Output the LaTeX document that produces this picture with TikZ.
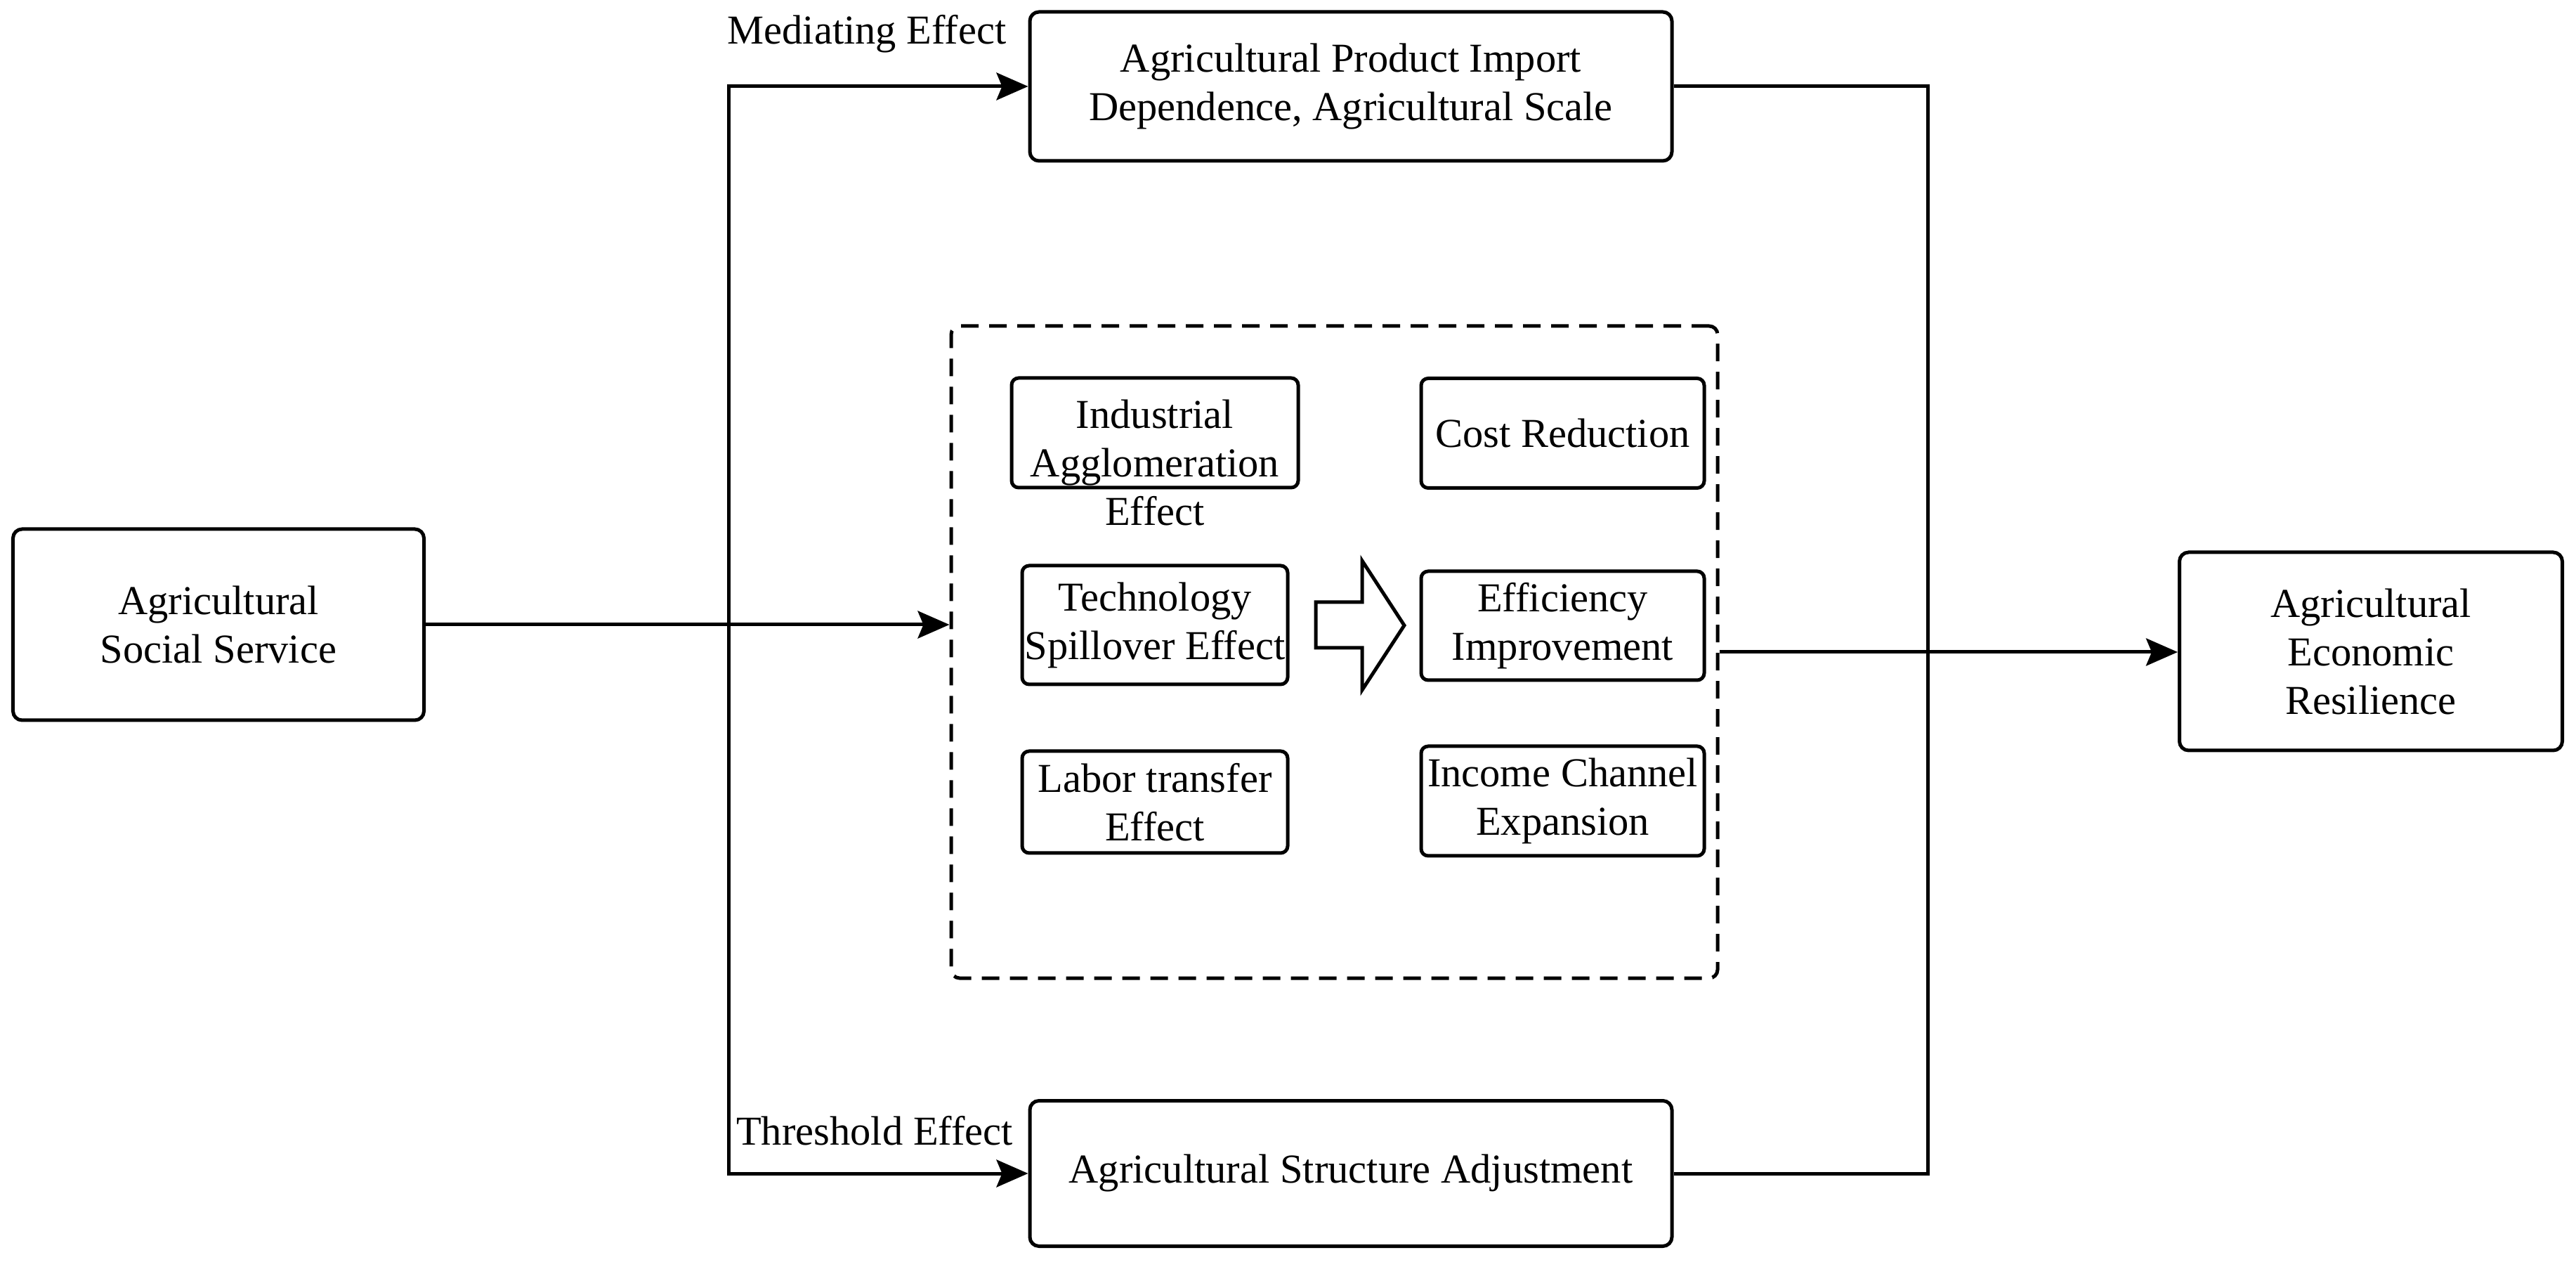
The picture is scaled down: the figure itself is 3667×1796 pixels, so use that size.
\documentclass[tikz,border=0pt]{standalone}
\usepackage{fontspec}
\setmainfont{Liberation Serif}
\usetikzlibrary{arrows.meta}

\begin{document}
\begin{tikzpicture}[x=0.2pt,y=-0.2pt,line width=1pt,
        every node/.style={font=\fontsize{11.7}{13.8}\selectfont,align=center},
        box/.style={draw,rounded corners=2.6pt,inner sep=0.5pt},
        cell/.style={draw,rounded corners=2pt,inner sep=0.5pt},
        arr/.style={-{Stealth[length=9pt,width=7.8pt,inset=1.6pt]}}]
    \useasboundingbox (0,0) rectangle (3667,1796);
    % outer boxes
    \node[box,minimum width=117pt,minimum height=54.4pt] (service) at (311,889) {Agricultural\\Social Service};
    \node[box,minimum width=182.8pt,minimum height=42.4pt] (import) at (1923,123) {Agricultural Product Import\\Dependence, Agricultural Scale};
    \node[box,minimum width=182.8pt,minimum height=41.4pt] (structure) at (1923,1670) {Agricultural Structure Adjustment};
    \node[box,minimum width=109pt,minimum height=56.4pt] (resilience) at (3375,927) {Agricultural\\Economic\\Resilience};
    \node[draw,dash pattern=on 5pt off 3pt,rounded corners=2.4pt,minimum width=218.2pt,minimum height=185.6pt] (frame) at (1899.5,928) {};
    % mechanisms
    \node[cell,minimum width=81.6pt,minimum height=31.2pt] (industrial) at (1644,616) {};
    \node (industrialtext) at (1644,658) {Industrial\\Agglomeration\\Effect};
    \node[cell,minimum width=75.6pt,minimum height=33.8pt] (tech) at (1644,889.5) {Technology\\Spillover Effect};
    \node[cell,minimum width=75.6pt,minimum height=29pt] (labor) at (1644,1141.5) {Labor transfer\\Effect};
    \node[cell,minimum width=80.6pt,minimum height=31.2pt] (cost) at (2224.5,616.5) {Cost Reduction};
    \node[cell,minimum width=80.6pt,minimum height=31pt] (efficiency) at (2224.5,890.5) {Efficiency\\Improvement};
    \node[cell,minimum width=80.6pt,minimum height=31.2pt] (income) at (2224.5,1140) {Income Channel\\Expansion};
    \draw (1873,857) -- (1939,857) -- (1939,798) -- (1999,890) -- (1939,982) -- (1939,922) -- (1873,922) -- cycle;
    % paths
    \coordinate (fork) at (1037,889);
    \draw[arr] (service.east) -- (service.east -| frame.west);
    \draw[arr] (fork) |- (import.west);
    \draw[arr] (fork) |- (structure.west);
    \draw (import.east) -- ++(362,0) |- (structure.east);
    \draw[arr] (frame.east) -- (frame.east -| resilience.west);
    \node (mediating) at (1234,48) {Mediating Effect};
    \node (threshold) at (1245,1609) {Threshold Effect};
\end{tikzpicture}
\end{document}
